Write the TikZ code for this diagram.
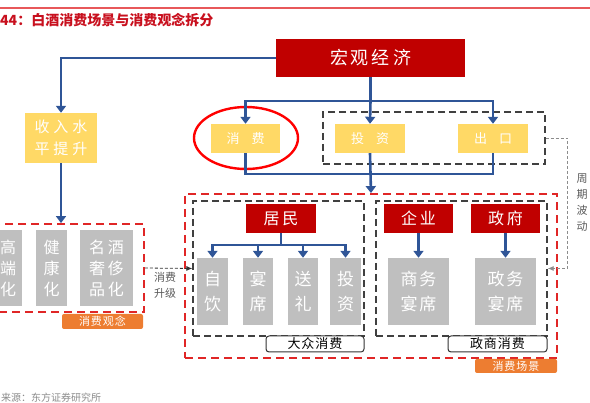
\documentclass[tikz,border=0pt]{standalone}
\usepackage{fontspec}
\setmainfont{Noto Sans CJK SC}
\usetikzlibrary{arrows.meta,calc,fit,positioning,shapes.geometric}

\definecolor{darkRed}{HTML}{C00000}
\definecolor{titleRed}{HTML}{C8101E}
\definecolor{ruleRed}{HTML}{E8585A}
\definecolor{dashRed}{HTML}{E02626}
\definecolor{goldFill}{HTML}{FFD966}
\definecolor{boxGray}{HTML}{BFBFBF}
\definecolor{flowBlue}{HTML}{2F5597}
\definecolor{tagOrange}{HTML}{ED7D31}
\definecolor{noteGray}{HTML}{595959}

\begin{document}
\begin{tikzpicture}[x=1pt, y=-1pt,
  title/.style={font=\bfseries\fontsize{14}{16}\selectfont, text=titleRed, anchor=west, inner sep=0pt},
  source/.style={font=\fontsize{10}{12}\selectfont, text=noteGray!70, anchor=west, inner sep=0pt},
  red box/.style={fill=darkRed, text=white, font=\fontsize{16}{18}\selectfont, minimum width=70pt, minimum height=29pt, inner sep=0pt},
  gold box/.style={fill=goldFill, text=white, font=\fontsize{13}{15}\selectfont, minimum width=70pt, minimum height=29pt, inner sep=0pt},
  gray box/.style={fill=boxGray, text=white, font=\fontsize{17}{25}\selectfont, align=center, minimum height=67pt, inner sep=0pt},
  idea box/.style={fill=boxGray, text=white, font=\fontsize{16}{21}\selectfont, align=center, minimum height=76pt, inner sep=0pt},
  group box/.style={draw=black!75, dash pattern=on 7pt off 4pt, line width=1.3pt, inner sep=0pt},
  scene box/.style={draw=dashRed, dash pattern=on 8pt off 5pt, line width=1.8pt, inner sep=0pt},
  tag/.style={fill=tagOrange, text=white, rounded corners=2pt, font=\fontsize{11}{13}\selectfont, inner sep=0pt},
  caption/.style={draw=black!80, fill=white, rounded corners=3pt, line width=1pt, font=\fontsize{13}{15}\selectfont, inner sep=0pt},
  side note/.style={font=\fontsize{11}{16}\selectfont, text=noteGray, align=center, inner sep=0pt},
  ring/.style={draw=red, ellipse, line width=2.4pt, inner sep=0pt},
  link/.style={draw=flowBlue, line width=2.6pt},
  flow/.style={link, -{Triangle[length=7pt,width=10pt]}},
  upgrade/.style={draw=black!80, dash pattern=on 3pt off 2pt, line width=0.8pt, -{Latex[length=6pt,width=5pt]}},
  cycle/.style={draw=black!45, dash pattern=on 3pt off 2pt, line width=0.8pt, -{Latex[length=6pt,width=5pt]}}
]
\useasboundingbox (0,0) rectangle (590,403);

% -----------------------------------------------------------------------------
% Heading and source line.
% -----------------------------------------------------------------------------
\draw[ruleRed, line width=1.5pt] (0,8) -- (590,8);
\node[title] (figTitle) at (0,20) {44：白酒消费场景与消费观念拆分};
\node[source] (srcNote) at (1,398) {来源：东方证券研究所};

% -----------------------------------------------------------------------------
% Top row: macro economy and its three demand parts.
% -----------------------------------------------------------------------------
\node[red box, minimum width=189pt, minimum height=38pt, font=\fontsize{18}{20}\selectfont] (macro) at (370.5,58) {宏\hspace{3pt}观\hspace{3pt}经\hspace{3pt}济};
\node[gold box, minimum width=72pt, minimum height=50pt, font=\fontsize{15}{22}\selectfont, align=center] (income) at (61,138) {收\hspace{4pt}入\hspace{4pt}水\\平\hspace{4pt}提\hspace{4pt}升};

\node[gold box, minimum width=69pt] (consume) at (245.5,138.5) {消\hspace{12pt}费};
\node[gold box] (invest) at (370,138.5) {投\hspace{12pt}资};
\node[gold box] (export) at (493,138.5) {出\hspace{12pt}口};
\node[ring, minimum width=104pt, minimum height=62pt] (consumeRing) at (246,138) {};
\node[group box, minimum width=222pt, minimum height=52pt] (cycleBox) at (434,138) {};

\coordinate (split) at (370.5,101);
\coordinate (merge) at (370.5,174);

% -----------------------------------------------------------------------------
% Consumption scenes.
% -----------------------------------------------------------------------------
\node[scene box, minimum width=372pt, minimum height=164pt] (scene) at (371,276) {};
\node[group box, minimum width=171pt, minimum height=135pt] (massBox) at (278.5,268.5) {};
\node[group box, minimum width=171pt, minimum height=135pt] (govBox) at (461.5,268.5) {};
\node[caption, minimum width=98pt, minimum height=16pt] (massCap) at (315,344) {大\hspace{1pt}众\hspace{1pt}消\hspace{1pt}费};
\node[caption, minimum width=99pt, minimum height=16pt] (govCap) at (497.5,344) {政\hspace{1pt}商\hspace{1pt}消\hspace{1pt}费};
\node[tag, minimum width=82pt, minimum height=14pt] (sceneTag) at (516,366) {消\hspace{1pt}费\hspace{1pt}场\hspace{1pt}景};

\node[red box] (resident) at (281,218.5) {居\hspace{3pt}民};
\node[red box, minimum width=69pt] (enterprise) at (418.5,218.5) {企\hspace{3pt}业};
\node[red box, minimum width=69pt] (government) at (505.5,218.5) {政\hspace{3pt}府};

\node[gray box, minimum width=31pt] (selfDrink) at (212.5,291.5) {自\\饮};
\node[gray box, minimum width=30pt] (banquet) at (258,291.5) {宴\\席};
\node[gray box, minimum width=30pt] (gift) at (303,291.5) {送\\礼};
\node[gray box, minimum width=31pt] (investUse) at (345.5,291.5) {投\\资};
\node[gray box, minimum width=61pt] (bizBanquet) at (418.5,291.5) {商\hspace{2pt}务\\宴\hspace{2pt}席};
\node[gray box, minimum width=61pt] (govBanquet) at (505.5,291.5) {政\hspace{2pt}务\\宴\hspace{2pt}席};

% -----------------------------------------------------------------------------
% Consumption ideas (left).
% -----------------------------------------------------------------------------
\node[scene box, minimum width=158pt, minimum height=88pt] (concept) at (65,268) {};
\node[idea box, minimum width=28pt] (highEnd) at (8,268) {高\\端\\化};
\node[idea box, minimum width=31pt] (healthy) at (51.5,268) {健\\康\\化};
\node[idea box, minimum width=53pt] (luxury) at (106.5,268) {名\hspace{3pt}酒\\奢\hspace{3pt}侈\\品\hspace{3pt}化};
\node[tag, minimum width=81pt, minimum height=15pt] (conceptTag) at (102.5,321.5) {消\hspace{1pt}费\hspace{1pt}观\hspace{1pt}念};

\node[side note] (upgradeNote) at (165,285) {消费\\升级};
\node[side note] (cycleNote) at (582,203) {周\\期\\波\\动};

% -----------------------------------------------------------------------------
% Connectors.
% -----------------------------------------------------------------------------
\draw[flow] (macro.west) -| (income.north);
\draw[flow] (income.south) -- (income.south |- concept.north);

\draw[link] (macro.south) -- (split);
\draw[flow] (split) -| (consume.north);
\draw[flow] (split) -- (invest.north);
\draw[flow] (split) -| (export.north);

\draw[link] (consume.south) |- (merge);
\draw[link] (export.south) |- (merge);
\draw[flow] (invest.south) -- (scene.north);

\foreach \item in {selfDrink,banquet,gift,investUse}
  \draw[flow] (resident.south) -- ++(0,12) -| (\item.north);
\draw[flow] (enterprise.south) -- (bizBanquet.north);
\draw[flow] (government.south) -- (govBanquet.north);

\coordinate (cycleTurn) at ($(cycleBox.east)+(22,0)$);
\draw[cycle] (cycleBox.east) -- (cycleTurn) |- (govBox.east);
\draw[upgrade] (concept.east) -- (massBox.west);

\end{tikzpicture}
\end{document}
